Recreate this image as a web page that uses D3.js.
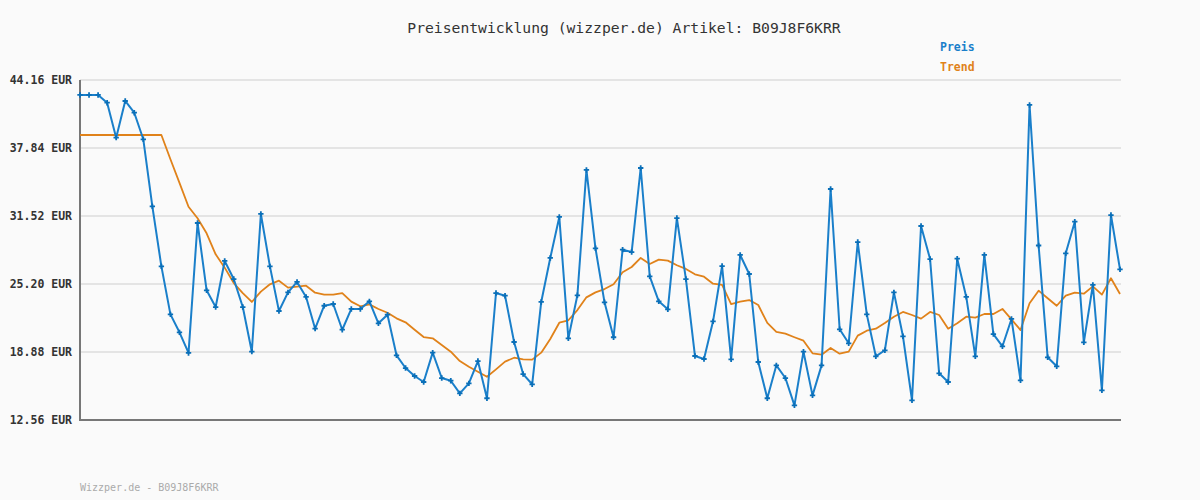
<!DOCTYPE html>
<html>
<head>
<meta charset="utf-8">
<script src="https://cdn.jsdelivr.net/npm/d3@7"></script>
<style>
  body { margin: 0; background: #fafafa; }
  svg { display: block; }
</style>
</head>
<body>
<script>
// price readings (EUR), one per sample
var preis = [42.77, 42.77, 42.77, 42.05, 38.80, 42.21, 41.12, 38.65, 32.42, 26.84,
    22.38, 20.71, 18.79, 30.87, 24.61, 23.06, 27.34, 25.66, 23.06, 18.91,
    31.71, 26.84, 22.69, 24.42, 25.39, 24.00, 21.05, 23.18, 23.34, 20.95,
    22.88, 22.88, 23.59, 21.55, 22.35, 18.57, 17.39, 16.65, 16.09, 18.82,
    16.46, 16.21, 15.04, 15.97, 18.04, 14.58, 24.36, 24.11, 19.81, 16.83,
    15.88, 23.53, 27.62, 31.43, 20.15, 24.15, 35.80, 28.52, 23.50, 20.25,
    28.39, 28.17, 35.98, 25.91, 23.59, 22.85, 31.33, 25.66, 18.51, 18.23,
    21.73, 26.87, 18.20, 27.90, 26.13, 17.95, 14.58, 17.64, 16.46, 13.92,
    18.91, 14.85, 17.64, 34.03, 20.99, 19.69, 29.10, 22.38, 18.48, 19.04,
    24.42, 20.34, 14.39, 30.59, 27.52, 16.90, 16.09, 27.55, 24.00, 18.48,
    27.90, 20.55, 19.41, 21.95, 16.25, 41.84, 28.78, 18.39, 17.55, 28.05,
    30.99, 19.78, 25.11, 15.32, 31.61, 26.56];

var trend = [39.05, 39.05, 39.05, 39.05, 39.05, 39.05, 39.05, 39.05, 39.05, 39.05,
    36.80, 34.60, 32.38, 31.31, 29.91, 27.96, 26.72, 25.29, 24.36, 23.53,
    24.49, 25.17, 25.51, 24.86, 24.95, 25.04, 24.39, 24.21, 24.21, 24.36,
    23.56, 23.13, 23.31, 22.88, 22.53, 22.01, 21.64, 20.95, 20.27, 20.15,
    19.53, 18.91, 18.04, 17.51, 17.05, 16.58, 17.27, 17.98, 18.35, 18.20,
    18.17, 18.82, 20.09, 21.60, 21.83, 22.78, 23.96, 24.42, 24.73, 25.17,
    26.29, 26.78, 27.62, 27.06, 27.46, 27.37, 26.94, 26.60, 26.10, 25.88,
    25.23, 25.11, 23.34, 23.56, 23.71, 23.25, 21.58, 20.74, 20.58, 20.25,
    19.93, 18.76, 18.63, 19.25, 18.72, 18.91, 20.40, 20.86, 21.05, 21.58,
    22.16, 22.60, 22.32, 21.98, 22.60, 22.32, 21.05, 21.55, 22.16, 22.07,
    22.41, 22.41, 22.88, 21.92, 20.92, 23.41, 24.58, 23.87, 23.18, 24.11,
    24.39, 24.30, 24.98, 24.21, 25.73, 24.27];

var yTicks = [12.56, 18.88, 25.20, 31.52, 37.84, 44.16];
var seriesNames = ["Preis", "Trend"];
var seriesColors = ["#1a7fca", "#e0821a"];
var artikel = "B09J8F6KRR";

var w = 1200;
var h = 500;
var plotLeft = 80, plotRight = 1120, plotTop = 80, plotBottom = 420;

var svg = d3.select("body")
    .append("svg")
    .attr("width", w)
    .attr("height", h)
    .style("background", "#fafafa");

var x = d3.scaleLinear()
    .domain([0, preis.length - 1])
    .range([plotLeft, plotRight]);

var y = d3.scaleLinear()
    .domain([12.56, 44.16])
    .range([plotBottom, plotTop]);

var mono = "'DejaVu Sans Mono', 'Liberation Mono', monospace";

// grid lines
svg.append("g")
    .selectAll("line")
    .data(yTicks)
    .enter()
    .append("line")
    .attr("x1", plotLeft)
    .attr("x2", plotRight + 1)
    .attr("y1", function(d) { return y(d); })
    .attr("y2", function(d) { return y(d); })
    .attr("stroke", "#e4e4e4")
    .attr("stroke-width", 2);

// y axis labels
var yAxis = d3.axisLeft(y)
    .tickValues(yTicks)
    .tickSize(0)
    .tickPadding(8)
    .tickFormat(function(d) { return d.toFixed(2) + " EUR"; });

var gy = svg.append("g")
    .attr("transform", "translate(" + plotLeft + ",0)")
    .call(yAxis);
gy.select(".domain").remove();
gy.selectAll("text")
    .style("font-family", mono)
    .style("font-size", "11.5px")
    .style("font-weight", "bold")
    .attr("fill", "#333");

// axis lines
svg.append("path")
    .attr("d", "M" + plotLeft + "," + plotTop + "V" + plotBottom + "H" + (plotRight + 1))
    .attr("fill", "none")
    .attr("stroke", "#777")
    .attr("stroke-width", 2);

var line = d3.line()
    .x(function(d, i) { return x(i); })
    .y(function(d) { return y(d); });

svg.append("path")
    .datum(trend)
    .attr("d", line)
    .attr("fill", "none")
    .attr("stroke", seriesColors[1])
    .attr("stroke-width", 1.8)
    .attr("stroke-linejoin", "round");

svg.append("path")
    .datum(preis)
    .attr("d", line)
    .attr("fill", "none")
    .attr("stroke", seriesColors[0])
    .attr("stroke-width", 2)
    .attr("stroke-linejoin", "round");

var marker = d3.symbol().type(d3.symbolCross).size(16);
svg.append("g")
    .selectAll("path")
    .data(preis)
    .enter()
    .append("path")
    .attr("d", marker)
    .attr("transform", function(d, i) {
        return "translate(" + x(i) + "," + y(d) + ")";
    })
    .attr("fill", "#0a6fb8");

// title
svg.append("text")
    .attr("x", 624)
    .attr("y", 33)
    .attr("text-anchor", "middle")
    .style("font-family", mono)
    .style("font-size", "14.7px")
    .attr("fill", "#333")
    .text("Preisentwicklung (wizzper.de) Artikel: " + artikel);

// legend
svg.append("g")
    .selectAll("text")
    .data(seriesNames)
    .enter()
    .append("text")
    .attr("x", 940)
    .attr("y", function(d, i) { return 51 + i * 20; })
    .style("font-family", mono)
    .style("font-size", "11.5px")
    .style("font-weight", "bold")
    .attr("fill", function(d, i) { return seriesColors[i]; })
    .text(function(d) { return d; });

// footer
svg.append("text")
    .attr("x", 80)
    .attr("y", 491)
    .style("font-family", mono)
    .style("font-size", "10px")
    .attr("fill", "#aaa")
    .text("Wizzper.de - " + artikel);
</script>
</body>
</html>
